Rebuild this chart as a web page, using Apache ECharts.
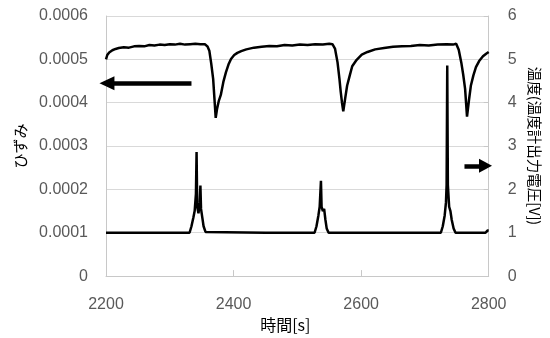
<!DOCTYPE html>
<html>
<head>
<meta charset="utf-8">
<script src="https://cdn.jsdelivr.net/npm/echarts@6/dist/echarts.min.js"></script>
<style>html,body{margin:0;padding:0;background:#fff;}#c{width:550px;height:338px;}</style>
</head>
<body>
<div id="c"></div>
<script>
// time [s]
var strainTime = [2200,2202,2205,2210,2215,2220,2228,2236,2244,2252,2260,2268,2276,2284,2292,2300,2308,2316,2324,2332,2340,2348,2355,
  2359,2362,2365,2368,2370,2372,2374,2377,2380,2384,2388,2392,2396,2401,2406,2412,2420,2432,2444,2456,2468,2480,2492,2504,2516,2528,2540,2550,2555,
  2559,2563,2566,2568,2570,2572,2575,2578,2582,2586,2593,2601,2610,2622,2636,2650,2664,2678,2692,2706,2720,2734,2744,2749,
  2753,2757,2760,2763,2766,2769,2772,2776,2780,2785,2791,2796,2800];
// strain (left axis)
var strainValues = [0.000500,0.000510,0.000516,0.000521,0.000524,0.000526,0.000528,0.000527,0.000530,0.000531,0.000530,0.000533,0.000532,0.000534,0.000533,0.000535,0.000534,0.000536,0.000534,0.000535,0.000536,0.000535,0.000535,
  0.000530,0.000520,0.000490,0.000455,0.000410,0.000365,0.000385,0.000405,0.000418,0.000448,0.000470,0.000488,0.000501,0.000510,0.000515,0.000519,0.000523,0.000527,0.000529,0.000531,0.000530,0.000533,0.000532,0.000534,0.000533,0.000535,0.000534,0.000536,0.000535,
  0.000525,0.000493,0.000455,0.000425,0.000400,0.000380,0.000410,0.000439,0.000462,0.000484,0.000499,0.000511,0.000517,0.000523,0.000526,0.000529,0.000530,0.000531,0.000533,0.000532,0.000534,0.000535,0.000534,0.000536,
  0.000522,0.000493,0.000465,0.000432,0.000368,0.000405,0.000439,0.000463,0.000482,0.000496,0.000507,0.000513,0.000517];

var tempTime = [2200,2250,2300,2331,2334,2337,2339,2341,2342,2343,2345,2347,2348,2349,2351,2353,2356,2358,
  2450,2527,2530,2533,2535,2537,2538,2540,2542,2544,2546,2549,
  2650,2725,2728,2731,2733,2734,2735,2736,2738,2740,2742,2745,2748,2795,2798,2800];
// temperature sensor output voltage [V] (right axis)
var tempValues = [1.0,1.0,1.0,1.0,1.15,1.35,1.5,1.9,2.86,1.6,1.45,1.7,2.09,1.55,1.35,1.15,1.02,1.0,
  1.0,1.0,1.15,1.4,1.6,2.2,1.6,1.5,1.55,1.3,1.1,1.0,
  1.0,1.0,1.15,1.4,1.7,2.1,4.86,2.1,1.6,1.5,1.3,1.1,1.0,1.0,1.05,1.05];

var xTicks = ['2200', '2400', '2600', '2800'];
var leftTicks = ['0','0.0001','0.0002','0.0003','0.0004','0.0005','0.0006'];
var rightTicks = ['0','1','2','3','4','5','6'];

var strainArrow = [[2334, 0.000445], [2201.5, 0.000445]];
var tempArrow = [[2762, 2.545], [2795, 2.545]];

function zip(a, b) { var r = []; for (var i = 0; i < a.length; i++) r.push([a[i], b[i]]); return r; }

var numFont = 'Liberation Sans';
var cjkFont = 'Noto Sans CJK JP';
var gridCol = '#d9d9d9';
var axisCol = '#c8c8c8';

var chart = echarts.init(document.getElementById('c'), null, {renderer: 'canvas'});
chart.setOption({
  animation: false,
  backgroundColor: '#ffffff',
  grid: {left: 106, right: 54, top: 16, bottom: 58},
  xAxis: {
    type: 'value', min: 2200, max: 2800, interval: 200,
    name: '時間[s]', nameLocation: 'middle', nameGap: 38,
    nameTextStyle: {fontFamily: cjkFont, fontSize: 16, color: '#000', padding: [0, 24, 0, 0]},
    axisLine: {show: true, lineStyle: {color: axisCol, width: 1}},
    axisTick: {show: true, inside: true, length: 6, lineStyle: {color: axisCol}},
    axisLabel: {fontFamily: numFont, fontSize: 16, color: '#595959', margin: 20,
      formatter: function (v) { return xTicks[Math.round((v - 2200) / 200)]; }},
    splitLine: {show: false}
  },
  yAxis: [{
    type: 'value', min: 0, max: 0.0006, interval: 0.0001,
    name: 'ひずみ', nameLocation: 'middle', nameRotate: 90, nameGap: 78,
    nameTextStyle: {fontFamily: cjkFont, fontSize: 15, color: '#000'},
    axisLine: {show: true, lineStyle: {color: axisCol, width: 1}},
    axisTick: {show: false},
    axisLabel: {fontFamily: numFont, fontSize: 16, color: '#595959', margin: 18,
      formatter: function (v) { return leftTicks[Math.round(v / 0.0001)]; }},
    splitLine: {show: true, lineStyle: {color: gridCol, width: 1}}
  }, {
    type: 'value', min: 0, max: 6, interval: 1,
    name: '温度(温度計出力電圧[V])', nameLocation: 'middle', nameRotate: -90, nameGap: 38,
    nameTextStyle: {fontFamily: cjkFont, fontSize: 14.5, color: '#000'},
    axisLine: {show: true, lineStyle: {color: axisCol, width: 1}},
    axisTick: {show: true, inside: true, length: 5, lineStyle: {color: axisCol}},
    axisLabel: {fontFamily: numFont, fontSize: 16, color: '#595959', margin: 19,
      formatter: function (v) { return rightTicks[Math.round(v)]; }},
    splitLine: {show: false}
  }],
  series: [{
    type: 'line', yAxisIndex: 0, data: zip(strainTime, strainValues),
    showSymbol: false, symbol: 'none', smooth: false,
    lineStyle: {color: '#000', width: 2.5},
    markLine: {
      silent: true, symbol: ['none', 'triangle'], symbolSize: [14, 15],
      label: {show: false}, lineStyle: {color: '#000', width: 4.5, type: 'solid'},
      data: [[{coord: strainArrow[0]}, {coord: strainArrow[1]}]]
    }
  }, {
    type: 'line', yAxisIndex: 1, data: zip(tempTime, tempValues),
    showSymbol: false, symbol: 'none', smooth: false,
    lineStyle: {color: '#000', width: 2.5},
    markLine: {
      silent: true, symbol: ['none', 'triangle'], symbolSize: [14, 13],
      label: {show: false}, lineStyle: {color: '#000', width: 4.5, type: 'solid'},
      data: [[{coord: tempArrow[0]}, {coord: tempArrow[1]}]]
    }
  }]
});
</script>
</body>
</html>
